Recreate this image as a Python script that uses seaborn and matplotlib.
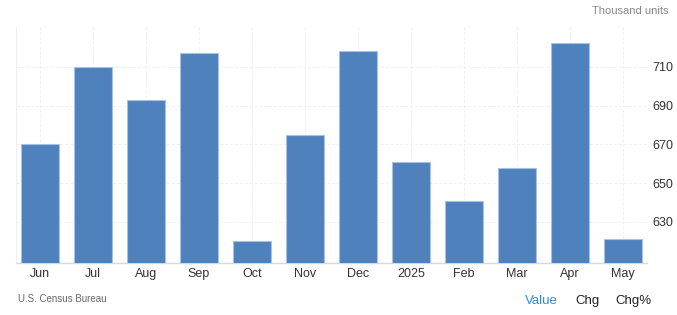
import matplotlib
matplotlib.use("Agg")
import matplotlib.pyplot as plt
import seaborn as sns
import pandas as pd

categories = ["Jun", "Jul", "Aug", "Sep", "Oct", "Nov", "Dec", "2025", "Feb", "Mar", "Apr", "May"]
values = [670, 710, 693, 717, 620, 675, 718, 661, 641, 658, 722, 621]
yticks = [630, 650, 670, 690, 710]

sns.set_theme(style="white")
plt.rcParams['font.family'] = ['Liberation Sans', 'DejaVu Sans']

df = pd.DataFrame({"month": categories, "value": values})

fig = plt.figure(figsize=(6.77, 3.15), dpi=100)
ax = fig.add_axes([0.0236, 0.164, 0.932, 0.751])

sns.barplot(data=df, x="month", y="value", color="#4f81bd", saturation=1,
            width=0.72, edgecolor="#a9c1e3", linewidth=0.8, ax=ax, zorder=3)

ax.set_ylim(608.6, 730.6)
ax.set_xlim(-0.45, 11.45)
ax.set_yticks(yticks)
ax.yaxis.tick_right()
ax.set_xlabel("")
ax.set_ylabel("")
ax.grid(True, axis="both", color="#f0f0f0", linestyle=(0, (3, 2)), linewidth=0.7, zorder=0)
for s in ["top", "right", "left"]:
    ax.spines[s].set_visible(False)
ax.spines["bottom"].set_color("#d8d8d8")
ax.spines["bottom"].set_linewidth(1)
ax.axvline(-0.45, color="#eeeeee", linewidth=0.8, zorder=1)
ax.tick_params(axis="both", length=0, labelsize=9, colors="#333333")
ax.tick_params(axis="x", pad=3)
ax.tick_params(axis="y", pad=4)

fig.text(0.987, 0.965, "Thousand units", ha="right", va="center", fontsize=8, color="#888888")
fig.text(0.027, 0.05, "U.S. Census Bureau", ha="left", va="center", fontsize=7, color="#666666")
fig.text(0.800, 0.045, "Value", ha="center", va="center", fontsize=9.5, color="#2b8ded")
fig.text(0.868, 0.045, "Chg", ha="center", va="center", fontsize=9.5, color="#222222")
fig.text(0.935, 0.045, "Chg%", ha="center", va="center", fontsize=9.5, color="#222222")

fig.savefig("out.png", dpi=100)
